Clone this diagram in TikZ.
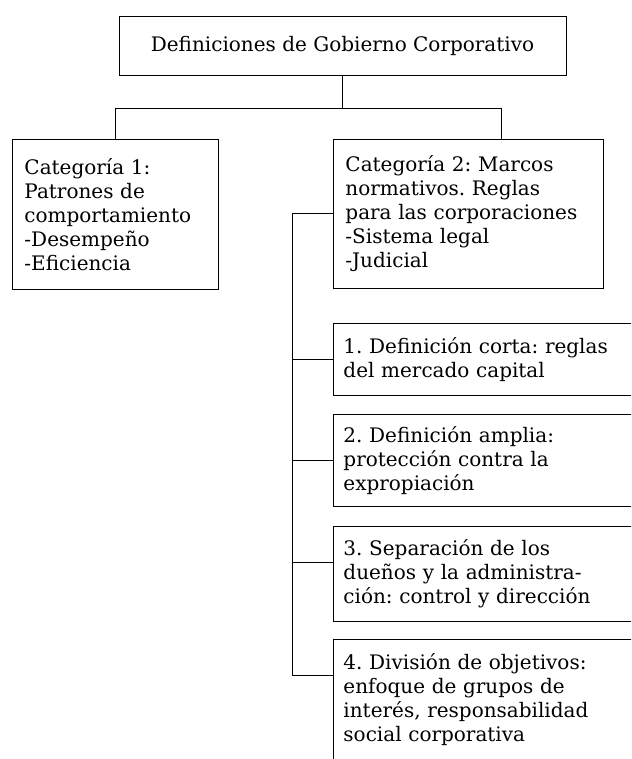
\documentclass[tikz,border=0pt]{standalone}
\usepackage{fontspec}
\setmainfont{DejaVu Serif}
\frenchspacing
\usetikzlibrary{positioning,calc}

\begin{document}
\begin{tikzpicture}[x=1pt,y=-1pt,
		box/.style={draw, line width=0.9pt, anchor=north west, align=left,
			inner xsep=12pt, inner ysep=0pt, font=\fontsize{20}{24}\selectfont},
		link/.style={line width=0.9pt}]
		\useasboundingbox (0,0) rectangle (631,759);
		\clip (0,0) rectangle (631,759);

		\node[box, anchor=center, align=center, minimum width=447pt, minimum height=59pt] (top) at (342.5,45.5) {Definiciones de Gobierno Corporativo};

		\node[box, text width=182pt, minimum height=150pt] (cat1) at (12,139) {Categoría 1:\\Patrones de\\comportamiento\\-Desempeño\\-Eficiencia};
		\node[box, text width=246pt, minimum height=149pt] (cat2) at (333,139) {Categoría 2: Marcos\\normativos. Reglas\\para las corporaciones\\-Sistema legal\\-Judicial};

		\node[box, inner xsep=10pt, text width=300pt, minimum height=72pt] (def1) at (333,323) {1. Definición corta: reglas\\del mercado capital};
		\node[box, inner xsep=10pt, text width=300pt, minimum height=92pt] (def2) at (333,414) {2. Definición amplia:\\protección contra la\\expropiación};
		\node[box, inner xsep=10pt, text width=300pt, minimum height=95pt] (def3) at (333,526) {3. Separación de los\\dueños y la administra-\\ción: control y dirección};
		\node[box, inner xsep=10pt, inner ysep=14pt, text width=300pt, text depth=110pt] (def4) at (333,639) {4. División de objetivos:\\enfoque de grupos de\\interés, responsabilidad\\social corporativa};

		% arbol superior
		\draw[link] (top.south) -- ++(0,33) coordinate (hub);
		\draw[link] (cat1.north) |- (hub) -| ([xshift=33pt]cat2.north);

		% definiciones
		\coordinate (in3) at ([yshift=-36pt]def3.north west);
		\coordinate (in4) at ([yshift=-36pt]def4.north west);
		\draw[link] (cat2.west) -- ++(-41,0) coordinate (spine) |- (in4);
		\foreach \n in {def1.west, def2.west, in3}
			\draw[link] (spine |- \n) -- (\n);
	\end{tikzpicture}
\end{document}
